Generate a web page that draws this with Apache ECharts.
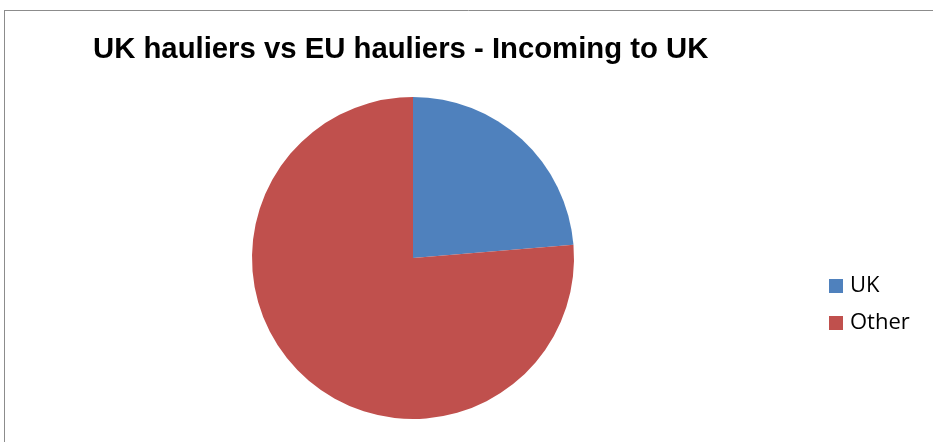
<!DOCTYPE html>
<html>
<head>
<meta charset="utf-8">
<script src="https://cdn.jsdelivr.net/npm/echarts@6/dist/echarts.min.js"></script>
<style>
html,body{margin:0;padding:0;background:#fff;}
#chart{width:933px;height:442px;}
</style>
</head>
<body>
<div id="chart"></div>
<script>
const categories = ["UK", "Other"];
const values = [23.7, 76.3];
const colors = ["#4F81BD", "#C0504D"];

const chart = echarts.init(document.getElementById('chart'));
chart.setOption({
  animation: false,
  backgroundColor: '#fff',
  title: {
    text: 'UK hauliers vs EU hauliers - Incoming to UK',
    left: 88, top: 30,
    textStyle: { fontFamily: 'Liberation Sans, Arial, sans-serif', fontWeight: 'bold', fontSize: 29.3, color: '#000' }
  },
  legend: {
    orient: 'vertical',
    left: 824, top: 270,
    itemWidth: 14, itemHeight: 14, itemGap: 15,
    icon: 'rect',
    textStyle: { fontFamily: 'Open Sans, sans-serif', fontSize: 22, color: '#000', padding: [0,0,0,2] },
    data: categories
  },
  graphic: [
    { type: 'line', shape: { x1: 4.5, y1: 10, x2: 4.5, y2: 442 }, style: { stroke: '#8c8c8c', lineWidth: 1 } },
    { type: 'line', shape: { x1: 4, y1: 10.5, x2: 933, y2: 10.5 }, style: { stroke: '#8c8c8c', lineWidth: 1 } }
  ],
  series: [{
    type: 'pie',
    center: [413, 258],
    radius: 161,
    startAngle: 90,
    clockwise: true,
    label: { show: false },
    labelLine: { show: false },
    emphasis: { disabled: true },
    itemStyle: { borderWidth: 0 },
    data: categories.map((c, i) => ({ name: c, value: values[i], itemStyle: { color: colors[i] } }))
  }]
});
</script>
</body>
</html>
